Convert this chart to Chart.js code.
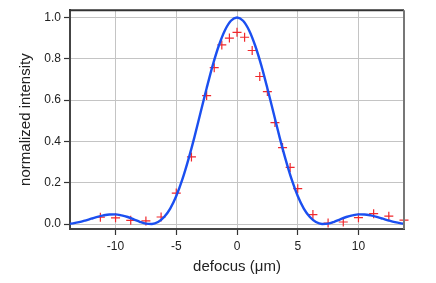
<!DOCTYPE html>
<html>
<head>
<meta charset="utf-8">
<script src="https://cdn.jsdelivr.net/npm/chart.js@4/dist/chart.umd.min.js"></script>
<style>
html,body{margin:0;padding:0;background:#fff;}
canvas{display:block;}
</style>
</head>
<body>
<canvas id="c" width="436" height="283"></canvas>
<script>
// Fitted curve (blue line)
const curveX = [-13.75,-13.5,-13,-12.5,-12,-11.5,-11,-10.5,-10,-9.5,-9,-8.5,-8,-7.5,-7,-6.5,-6,-5.5,-5,-4.5,-4,-3.5,-3,-2.5,-2,-1.5,-1,-0.5,0,0.5,1,1.5,2,2.5,3,3.5,4,4.5,5,5.5,6,6.5,7,7.5,8,8.5,9,9.5,10,10.5,11,11.5,12,12.5,13,13.5,13.75];
const curveY = [0.0015,0.0034,0.009,0.017,0.026,0.035,0.042,0.0465,0.047,0.042,0.034,0.023,0.011,0.002,0.0005,0.010,0.034,0.075,0.136,0.216,0.313,0.422,0.540,0.657,0.768,0.863,0.937,0.984,1.0,0.984,0.937,0.863,0.768,0.657,0.540,0.422,0.313,0.216,0.136,0.075,0.034,0.010,0.0005,0.002,0.011,0.023,0.034,0.042,0.047,0.0465,0.042,0.035,0.026,0.017,0.009,0.0034,0.0015];

// Measured points (red crosses)
const measX = [-11.25,-10,-8.75,-7.5,-6.25,-5,-3.75,-2.5,-1.875,-1.25,-0.625,0,0.625,1.25,1.875,2.5,3.125,3.75,4.375,5,6.25,7.5,8.75,10,11.25,12.5,13.75];
const measY = [0.033,0.030,0.018,0.015,0.034,0.150,0.325,0.622,0.757,0.867,0.900,0.928,0.904,0.840,0.714,0.641,0.491,0.370,0.274,0.171,0.046,0.005,0.010,0.031,0.050,0.038,0.019];

// Tick values
const xTicks = [-10,-5,0,5,10];
const yTicks = [0,0.2,0.4,0.6,0.8,1.0];

const xTitle = 'defocus (\u03bcm)';
const yTitle = 'normalized intensity';

const FONT = '"Liberation Sans", Arial, Helvetica, sans-serif';

const framePlugin = {
  id: 'frame',
  afterDraw(chart) {
    const {ctx, chartArea: a} = chart;
    ctx.save();
    ctx.lineWidth = 2;
    ctx.strokeStyle = '#333';
    ctx.beginPath();
    ctx.moveTo(a.left - 1, a.top);
    ctx.lineTo(a.right, a.top);
    ctx.stroke();
    ctx.strokeStyle = '#777';
    ctx.beginPath();
    ctx.moveTo(a.right, a.top);
    ctx.lineTo(a.right, a.bottom);
    ctx.stroke();
    ctx.restore();
  }
};

const gridOpts = {
  color: '#c4c4c4',
  lineWidth: 1,
  borderDash: [1, 2],
  drawTicks: true,
  tickLength: 6,
  tickColor: '#333',
  tickWidth: 1.2,
  tickBorderDash: []
};

new Chart(document.getElementById('c'), {
  type: 'line',
  data: {
    datasets: [
      {
        label: 'fit',
        data: curveX.map((x, i) => ({x, y: curveY[i]})),
        borderColor: '#1b4ff0',
        borderWidth: 2.4,
        pointRadius: 0,
        fill: false,
        cubicInterpolationMode: 'monotone',
        clip: false
      },
      {
        label: 'measured',
        data: measX.map((x, i) => ({x, y: measY[i]})),
        showLine: false,
        pointStyle: 'cross',
        pointRadius: 4.5,
        pointBorderWidth: 1.2,
        pointBorderColor: '#f0282c',
        pointBackgroundColor: '#f0282c',
        clip: false
      }
    ]
  },
  options: {
    responsive: false,
    animation: false,
    events: [],
    layout: {padding: {left: 0, top: 8, right: 32, bottom: 0}},
    plugins: {legend: {display: false}, tooltip: {enabled: false}},
    scales: {
      x: {
        type: 'linear',
        min: -13.75,
        max: 13.75,
        afterBuildTicks: s => { s.ticks = xTicks.map(v => ({value: v})); },
        afterFit: s => { s.height = 54; },
        grid: gridOpts,
        border: {display: true, color: '#444', width: 2},
        ticks: {
          padding: 4,
          color: '#222',
          font: {family: FONT, size: 12},
          callback: v => String(v),
          maxRotation: 0
        },
        title: {
          display: true,
          text: xTitle,
          color: '#222',
          font: {family: FONT, size: 15},
          padding: {top: 0, bottom: 7}
        }
      },
      y: {
        type: 'linear',
        min: -0.024,
        max: 1.035,
        afterBuildTicks: s => { s.ticks = yTicks.map(v => ({value: v})); },
        afterFit: s => { s.width = 70; },
        grid: gridOpts,
        border: {display: true, color: '#444', width: 2},
        ticks: {
          padding: 3,
          color: '#222',
          font: {family: FONT, size: 12},
          callback: v => Number(v).toFixed(1)
        },
        title: {
          display: true,
          text: yTitle,
          color: '#222',
          font: {family: FONT, size: 15},
          padding: {top: 17, bottom: 0}
        }
      }
    }
  },
  plugins: [framePlugin]
});
</script>
</body>
</html>
